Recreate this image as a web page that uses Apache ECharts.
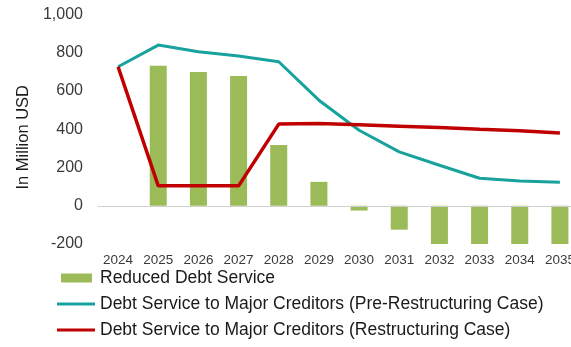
<!DOCTYPE html>
<html>
<head>
<meta charset="utf-8">
<script src="https://cdn.jsdelivr.net/npm/echarts@6/dist/echarts.min.js"></script>
<style>
  html, body { margin: 0; padding: 0; background: #fff; }
  #chart { width: 571px; height: 347px; }
</style>
</head>
<body>
<div id="chart"></div>
<script>
// Annual debt service, in million USD
const years = ['2024', '2025', '2026', '2027', '2028', '2029', '2030', '2031', '2032', '2033', '2034', '2035'];
const reducedDebtService = [0, 732, 700, 678, 317, 125, -25, -125, -200, -256, -262, -258];
const preRestructuring = [727, 840, 805, 783, 753, 552, 395, 282, 212, 144, 130, 123];
const restructuring = [727, 104, 104, 104, 427, 430, 423, 416, 409, 400, 392, 381];
const yTicks = { min: -200, max: 1000, step: 200 };

const FONT = '"Liberation Sans", Arial, sans-serif';

// Legend swatches: a short block for the bars, a thin stroke for the lines
const BAR_ICON = 'path://M0,0 M38,9 M4,0 L35,0 L35,9 L4,9 Z';
const LINE_ICON = 'path://M0,0 M38,9 M0,3 L38,3 L38,6 L0,6 Z';

const chart = echarts.init(document.getElementById('chart'), null, { renderer: 'canvas' });
chart.setOption({
  animation: false,
  backgroundColor: '#ffffff',
  grid: {
    left: 98, width: 482, top: 14.5, bottom: 103,
    containLabel: false,
    outerBoundsMode: 'none'
  },
  legend: {
    orient: 'vertical',
    left: 52,
    top: 264,
    itemWidth: 38,
    itemHeight: 9,
    itemGap: 8,
    itemTextGap: 2,
    textStyle: { fontFamily: FONT, fontSize: 17.5, color: '#1a1a1a' },
    data: [
      { name: 'Reduced Debt Service', icon: BAR_ICON },
      { name: 'Debt Service to Major Creditors (Pre-Restructuring Case)', icon: LINE_ICON },
      { name: 'Debt Service to Major Creditors (Restructuring Case)', icon: LINE_ICON }
    ]
  },
  xAxis: {
    type: 'category',
    data: years,
    boundaryGap: true,
    z: 5,
    axisLine: { onZero: true, lineStyle: { color: '#d0d0d0', width: 1 } },
    axisTick: { show: false },
    axisLabel: { fontFamily: FONT, fontSize: 13.5, color: '#3a3a3a', margin: 9, interval: 0 }
  },
  yAxis: {
    type: 'value',
    min: yTicks.min,
    max: yTicks.max,
    interval: yTicks.step,
    name: 'In Million USD',
    nameLocation: 'middle',
    nameGap: 66,
    nameTextStyle: { fontFamily: FONT, fontSize: 16.5, color: '#1a1a1a', padding: [0, 16, 0, 0] },
    axisLine: { show: false },
    axisTick: { show: false },
    splitLine: { show: false },
    axisLabel: {
      fontFamily: FONT, fontSize: 16, color: '#3a3a3a', margin: 15,
      formatter: v => v.toLocaleString('en-US')
    }
  },
  series: [
    {
      name: 'Reduced Debt Service',
      type: 'bar',
      data: reducedDebtService,
      barWidth: 17,
      clip: true,
      itemStyle: { color: '#9BBB59' }
    },
    {
      name: 'Debt Service to Major Creditors (Pre-Restructuring Case)',
      type: 'line',
      data: preRestructuring,
      symbol: 'none',
      z: 3,
      lineStyle: { color: '#17A29E', width: 3 },
      itemStyle: { color: '#17A29E' }
    },
    {
      name: 'Debt Service to Major Creditors (Restructuring Case)',
      type: 'line',
      data: restructuring,
      symbol: 'none',
      z: 4,
      lineStyle: { color: '#C00000', width: 3.5 },
      itemStyle: { color: '#C00000' }
    }
  ]
});
</script>
</body>
</html>
